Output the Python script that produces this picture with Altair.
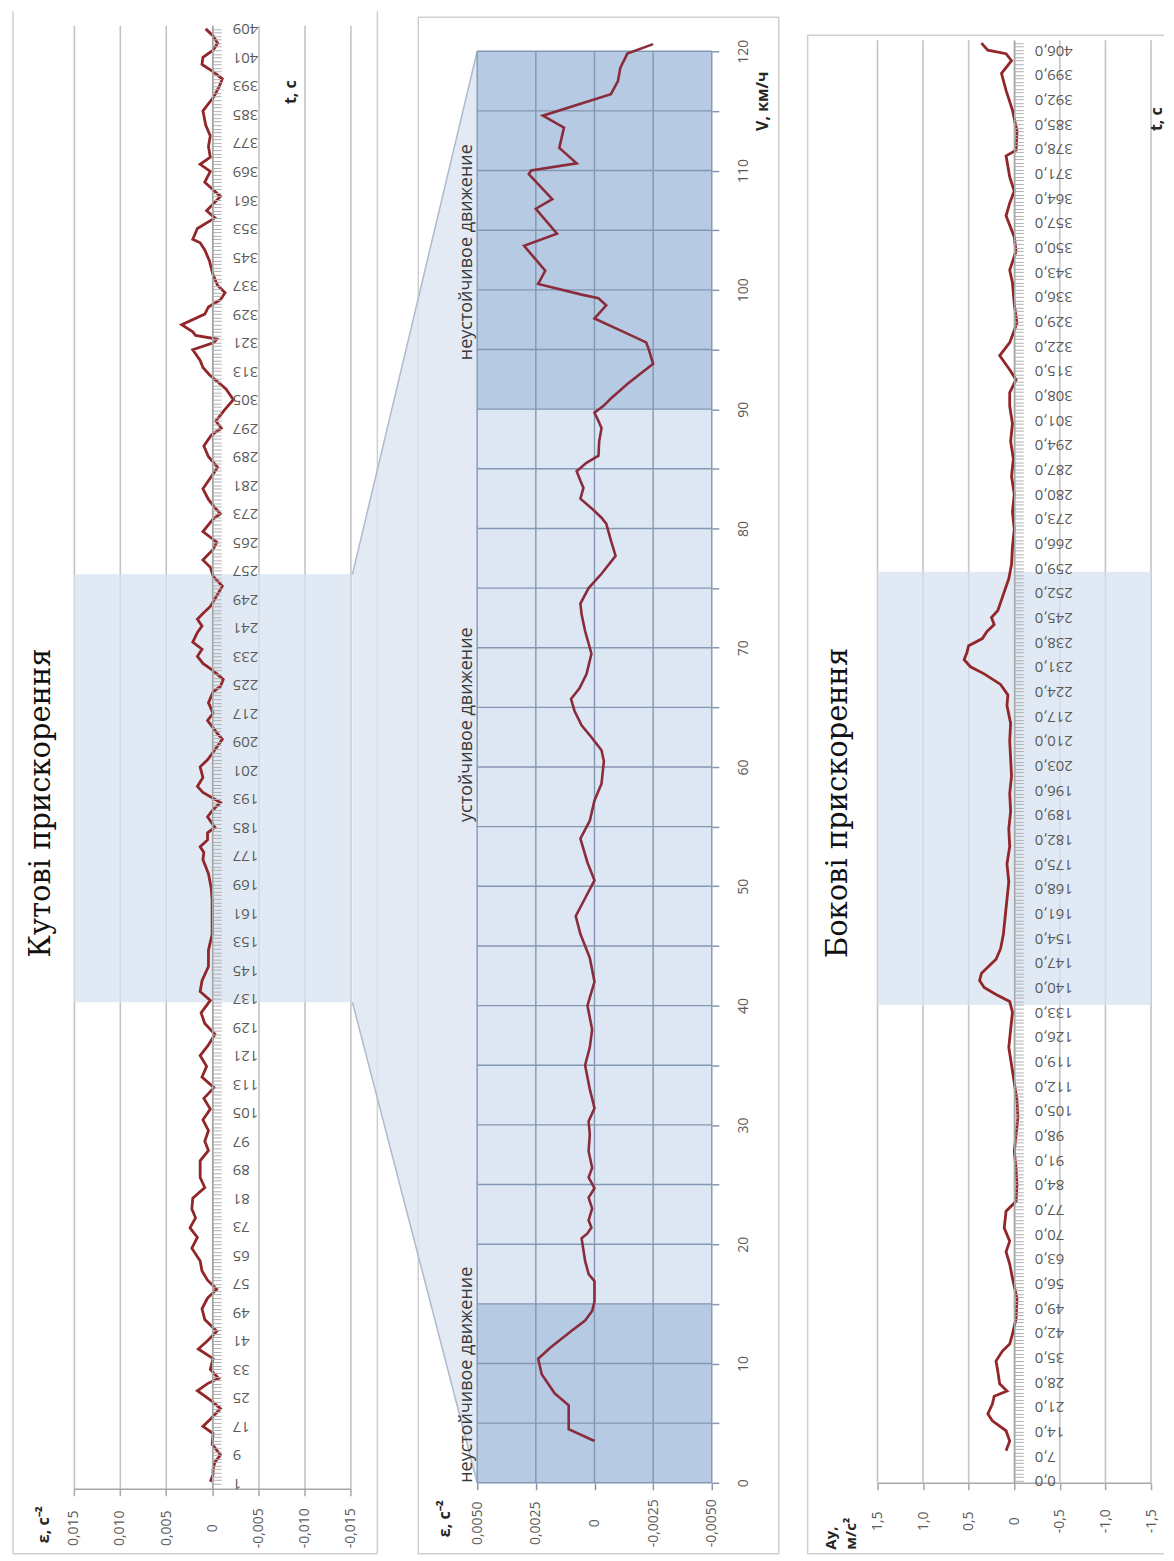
import altair as alt
import pandas as pd

# ---------------- data ----------------
# left panel: angular acceleration eps (1/s^2) against time t (s)
left_t = [1.5, 3.5, 5, 7, 9, 12, 15, 17, 19, 22, 24, 27, 29, 30.5, 33, 36, 38.7, 41, 43.7, 47,
          50, 53, 55.5, 58, 60.6, 63.4, 67, 70, 72.7, 75.5, 78, 81, 84, 86.8, 91.5, 94.4, 97, 100,
          103, 106, 109, 112, 115, 118, 121, 124, 127, 130, 133, 136.5, 139, 142, 146, 150.6, 155,
          160, 164.7, 168, 172, 176, 178, 179.6, 181.5, 183.5, 185, 188, 190, 192, 194.8, 196.5,
          199, 202, 204, 206.8, 209.7, 211.6, 215, 217, 220, 223, 224.6, 226.5, 229, 231, 233, 235,
          237, 239.7, 241.5, 243.4, 245, 247, 250, 252.7, 255.5, 258, 260, 263, 265, 268, 271.5,
          273, 275, 277, 280, 283, 286, 289, 292, 295, 297, 299, 302, 305, 308, 312, 314, 316, 319,
          321, 322, 323, 324, 326, 329, 331, 333, 335, 337, 340, 344, 347, 349, 350, 353, 356, 358,
          362, 366, 369, 371, 373, 376, 379, 382, 386, 390, 393, 395, 397, 399, 401, 403, 405, 407,
          409]
left_eps = [0.0002, -0.0001, -0.0001, -0.0003, -0.0009, 0.0000, -0.0001, 0.0010, 0.0002, -0.0009,
            0.0000, 0.0016, 0.0005, -0.0007, 0.0002, -0.0001, 0.0015, 0.0005, -0.0005, 0.0008,
            0.0011, 0.0005, -0.0005, 0.0005, 0.0011, 0.0013, 0.0022, 0.0016, 0.0024, 0.0018,
            0.0022, 0.0021, 0.0008, 0.0013, 0.0013, 0.0004, 0.0008, 0.0004, 0.0010, 0.0002,
            0.0009, -0.0002, 0.0011, 0.0006, 0.0013, 0.0004, -0.0003, 0.0008, 0.0012, 0.0002,
            0.0013, 0.0011, 0.0004, 0.0004, 0.0000, 0.0000, 0.0000, 0.0001, 0.0004, 0.0010,
            0.0009, 0.0013, 0.0005, 0.0005, -0.0003, 0.0005, -0.0001, -0.0009, 0.0010, 0.0016,
            0.0010, 0.0013, 0.0005, -0.0003, -0.0011, -0.0005, 0.0005, -0.0001, 0.0004, -0.0001,
            -0.0009, -0.0012, -0.0001, 0.0010, 0.0016, 0.0011, 0.0021, 0.0016, 0.0011, 0.0016,
            0.0010, 0.0002, -0.0005, -0.0011, -0.0001, 0.0002, 0.0010, -0.0001, -0.0005, 0.0010,
            -0.0001, -0.0009, -0.0002, 0.0004, 0.0010, 0.0002, -0.0006, 0.0004, 0.0009, 0.0001,
            -0.0010, -0.0004, -0.0013, -0.0023, -0.0015, 0.0003, 0.0010, 0.0013, 0.0021, -0.0002,
            -0.0005, 0.0018, 0.0021, 0.0033, 0.0008, 0.0004, -0.0009, -0.0014, -0.0006, -0.0001,
            0.0003, 0.0008, 0.0013, 0.0021, 0.0016, -0.0003, 0.0006, -0.0009, 0.0008, 0.0002,
            0.0013, 0.0002, 0.0004, 0.0002, 0.0007, 0.0010, -0.0002, -0.0008, -0.0011, -0.0001,
            0.0011, 0.0010, -0.0001, -0.0006, -0.0001, 0.0007]

# middle panel: eps against speed V (km/h)
mid_v = [3.5, 4.5, 6.5, 7.5, 9.1, 10.4, 11.3, 12.7, 13.6, 14.4, 15.2, 16.9, 17.5, 18.6, 20.5, 20.9,
         21.4, 22, 23, 23.9, 24.7, 25.6, 26.4, 27.8, 29.2, 30.3, 31.4, 33, 35, 36.5, 38, 40, 42, 44,
         46, 47.5, 49, 50.5, 52, 54, 55.5, 57.2, 58.6, 60.5, 61.4, 62.5, 63.5, 64.7, 65.7, 66.6,
         67.8, 69.5, 70, 71.4, 72.8, 73.7, 75, 76.2, 77.7, 79, 80.4, 80.9, 81.7, 82.5, 83.4, 84,
         84.8, 85.5, 86.1, 87.3, 88.4, 89, 89.7, 90.3, 90.9, 92.1, 93.8, 95.1, 95.6, 96.6, 97.6,
         98.7, 99.3, 99.6, 100.5, 101.6, 103.7, 104.7, 106.8, 107.6, 109.7, 110, 110.6, 111.9,
         113.6, 114.6, 116.4, 117.5, 118.6, 119.8, 120.6]
mid_eps = [0.0000, 0.0011, 0.0011, 0.0017, 0.00225, 0.0024, 0.0019, 0.0010, 0.0004, 0.0001,
           0.0000, 0.0000, 0.00025, 0.0004, 0.00055, 0.0003, 0.00013, 0.00025, 0.0001, 0.00025,
           0.0000, 0.00025, 0.0001, 0.00025, 0.0002, 0.00025, 0.0000, 0.0002, 0.0004, 0.0002,
           0.0001, 0.0003, 0.0000, 0.0002, 0.0006, 0.0008, 0.0004, 0.0000, 0.0003, 0.0006,
           0.0002, 0.0000, -0.0003, -0.0004, -0.0003, 0.00013, 0.00055, 0.00085, 0.0010, 0.00064,
           0.00034, 0.00013, 0.0002, 0.0004, 0.00055, 0.0006, 0.00025, -0.0003, -0.0009, -0.0007,
           -0.0005, -0.0003, 0.00013, 0.0006, 0.00047, 0.0006, 0.00076, 0.00034, -0.00017, -0.0002,
           -0.0003, -0.00017, 0.0000, -0.0004, -0.0007, -0.0014, -0.0025, -0.0023, -0.0022, -0.0011,
           0.0000, -0.0005, -0.00017, 0.00055, 0.0024, 0.0021, 0.0030, 0.0016, 0.0025, 0.0018,
           0.0028, 0.0027, 0.00076, 0.0015, 0.0013, 0.0022, -0.0007, -0.0010, -0.0011, -0.0014,
           -0.0025]

# right panel: lateral acceleration Ay (m/s^2) against time t (s)
right_t = [8.5, 11.3, 14.2, 17, 19, 21.8, 24, 25.5, 27.5, 31, 34, 36.8, 38.8, 41.6, 46, 51.8, 57.5,
           61.5, 65, 68, 71.7, 76.5, 79.3, 84, 88.7, 93.5, 98, 103, 108, 113, 118, 123, 128, 133,
           136, 138, 140, 142, 144, 146, 148, 151, 155, 160, 165, 170, 175, 180, 185, 190, 195,
           200, 205, 210, 215, 220, 223, 226, 229, 231, 233, 235, 237, 239, 241, 243, 245, 247,
           250, 253, 256, 260, 265, 270, 275, 280, 285, 290, 295, 300, 305, 308.8, 312.5, 315.3,
           319.3, 323, 328.6, 334, 340, 343.6, 349, 353, 359, 362.6, 366, 370, 376, 377.6, 383,
           389, 394.6, 399.4, 403, 405, 406, 408]
right_ay = [0.09, 0.05, 0.09, 0.24, 0.29, 0.24, 0.22, 0.08, 0.16, 0.18, 0.20, 0.13, 0.05, 0.02,
            -0.02, -0.03, 0.02, 0.05, 0.09, 0.05, 0.11, 0.09, -0.02, -0.03, -0.02, 0.00, -0.02,
            -0.04, -0.03, 0.00, 0.03, 0.06, 0.04, 0.02, 0.05, 0.20, 0.33, 0.38, 0.36, 0.28, 0.20,
            0.15, 0.12, 0.10, 0.08, 0.06, 0.08, 0.05, 0.06, 0.04, 0.05, 0.03, 0.04, 0.05, 0.04,
            0.08, 0.07, 0.15, 0.33, 0.48, 0.55, 0.52, 0.50, 0.35, 0.30, 0.22, 0.25, 0.18, 0.14,
            0.10, 0.06, 0.03, 0.02, 0.00, 0.02, 0.00, 0.03, 0.01, 0.04, 0.02, 0.05, 0.05, -0.02,
            0.05, 0.16, 0.05, -0.03, 0.00, 0.02, 0.05, -0.02, 0.00, 0.09, 0.05, 0.00, 0.05, 0.09,
            -0.02, -0.03, 0.02, 0.09, 0.14, 0.03, 0.09, 0.29, 0.36]

left_band_t = [136, 256]
right_band_t = [135, 258]
unstable_from = [0, 90]
unstable_to = [15, 120]
notes_text = ["неустойчивое движение", "устойчивое движение", "неустойчивое движение"]
notes_v = [0, 55.4, 94.1]

left_eps_ticks = [-0.015, -0.010, -0.005, 0, 0.005, 0.010, 0.015]
mid_eps_ticks = [-0.005, -0.0025, 0, 0.0025, 0.005]
right_ay_ticks = [-1.5, -1.0, -0.5, 0, 0.5, 1.0, 1.5]
left_time_ticks = list(range(1, 410))
right_time_ticks = list(range(0, 409))
mid_v_ticks = list(range(0, 121, 5))

# ---------------- layout / style (page pixels) ----------------
TOP = 22                      # common top of the three views
L_X0, L_W, L_H = 73, 277, 1466
M_X0, M_W = 477, 235
M_PLOT_TOP, M_PLOT_BOT = 48, 1482
GAP = M_X0 - (L_X0 + L_W)     # hconcat spacing
R_VIEW_X0 = M_X0 + M_W + GAP
R_PLOT_X0, R_PLOT_X1 = 878, 1152
R_PLOT_TOP, R_PLOT_BOT = 37, 1482
R_W = R_PLOT_X1 - R_VIEW_X0
VIEW_H = M_PLOT_BOT - TOP
L_TDOM = [-0.5, 410]
R_TDOM = [-0.57, 408.8]

SANS = "Open Sans"
SERIF = "DejaVu Serif"
LBL = "#595959"
GRID = "#c4c4c4"
AXC = "#a6a6a6"
FRAME = "#cfcfcf"
RED = "#922629"
MGRID = "#8496b0"
BAND = "#d6e1f0"

one = pd.DataFrame({"a": [0]})


def comma_fmt(dec):
    return ("datum.value == 0 ? '0' : replace(replace(format(datum.value, '.%df'), '.', ','), '\u2212', '-')" % dec)


def rule(**enc):
    return alt.Chart(one).mark_rule(color=FRAME, strokeWidth=1.5).encode(**enc)


def text(x, y, s, size, font=SANS, weight="normal", align="center", color="#262626"):
    return alt.Chart(one).mark_text(angle=270, align=align, baseline="middle", font=font,
                                    fontSize=size, fontWeight=weight, color=color, text=s).encode(
        x=alt.value(x), y=alt.value(y))


# ---------------- left panel ----------------
sxL = alt.Scale(domain=[-0.015, 0.015], reverse=True, nice=False, zero=False)
syL = alt.Scale(domain=L_TDOM, nice=False, zero=False)
axXL = alt.Axis(orient="bottom", values=left_eps_ticks, labelExpr=comma_fmt(3), grid=True,
                gridColor=GRID, gridWidth=1.6, domainColor=AXC, domainWidth=1.5, tickColor=AXC,
                tickSize=7, tickWidth=1.5, labelAngle=270, labelAlign="center",
                labelBaseline="middle", labelPadding=32, labelFlush=False, labelFont=SANS,
                labelFontSize=14, labelColor=LBL, title="")
axYL = alt.Axis(orient="right", offset=-L_W / 2, values=left_time_ticks,
                labelExpr="(datum.value - 1) % 8 == 0 ? datum.label : ''", labelAngle=180,
                labelAlign="right", labelBaseline="middle", labelPadding=11, tickSize=9,
                tickColor="#b0b0b0", tickWidth=1, domainColor=AXC, domainWidth=1.5, grid=False,
                labelOverlap=False, labelFlush=False, labelFont=SANS, labelFontSize=15,
                labelColor=LBL, title="", zindex=1)

df_left = pd.DataFrame({"t": left_t, "eps": left_eps})
df_lband = pd.DataFrame({"eps": [0.015], "eps2": [-0.015], "t": [left_band_t[0]], "t2": [left_band_t[1]]})

l_band = alt.Chart(df_lband).mark_rect(color=BAND, opacity=0.75).encode(
    x=alt.X("eps:Q", scale=sxL, axis=axXL), x2="eps2:Q",
    y=alt.Y("t:Q", scale=syL, axis=axYL), y2="t2:Q")
l_line = alt.Chart(df_left).mark_line(color=RED, strokeWidth=2.8).encode(
    x=alt.X("eps:Q", scale=sxL, axis=axXL), y=alt.Y("t:Q", scale=syL, axis=axYL), order="t:Q")

fl, fr, ft, fb = 12 - L_X0, 377 - L_X0, 8 - TOP, 1553 - TOP
left = alt.layer(
    l_band, l_line,
    rule(x=alt.value(fl), y=alt.value(ft), y2=alt.value(fb)),
    rule(x=alt.value(fr), y=alt.value(ft), y2=alt.value(fb)),
    rule(x=alt.value(fl), x2=alt.value(fr), y=alt.value(fb)),
    text(40 - L_X0, 801 - TOP, "Кутові прискорення", 29, font=SERIF, color="#111111"),
    text(43 - L_X0, 1524 - TOP, "ε, с⁻²", 16, weight="bold"),
    text(290 - L_X0, 89 - TOP, "t, с", 16, weight="bold"),
).properties(width=L_W, height=L_H)

# ---------------- middle panel ----------------
sxM = alt.Scale(domain=[-0.005, 0.005], reverse=True, nice=False, zero=False)
syM = alt.Scale(domain=[0, 120], range=[M_PLOT_BOT - TOP, M_PLOT_TOP - TOP], nice=False, zero=False)
axXM = alt.Axis(orient="bottom", values=mid_eps_ticks, labelExpr=comma_fmt(4), grid=False,
                domain=False, tickColor=MGRID, tickSize=7, tickWidth=1.5, labelAngle=270,
                labelAlign="center", labelBaseline="middle", labelPadding=33, labelFlush=False,
                labelFont=SANS, labelFontSize=14, labelColor=LBL, title="")
axYM = alt.Axis(orient="right", values=mid_v_ticks,
                labelExpr="datum.value % 10 == 0 ? datum.label : ''", grid=False, domain=False,
                tickColor=MGRID, tickSize=7, tickWidth=1.5, labelAngle=270, labelAlign="center",
                labelBaseline="middle", labelPadding=25, labelOverlap=False, labelFlush=False,
                labelFont=SANS, labelFontSize=14, labelColor=LBL, title="")


# funnel connecting the left highlighted band with the middle plot
def left_t_to_page_y(t):
    return TOP + L_H * (L_TDOM[1] - t) / (L_TDOM[1] - L_TDOM[0])


def page_y_to_v(y):
    return (M_PLOT_BOT - y) / (M_PLOT_BOT - M_PLOT_TOP) * 120


funnel_eps_far = 0.005 + (M_X0 - (L_X0 + L_W + 2)) / M_W * 0.01
funnel_lo = page_y_to_v(left_t_to_page_y(left_band_t[0]))
funnel_hi = page_y_to_v(left_t_to_page_y(left_band_t[1]))
df_funnel = pd.DataFrame({"eps": [funnel_eps_far, 0.005], "lo": [funnel_lo, 0], "hi": [funnel_hi, 120]})
df_fedge = pd.DataFrame({"eps": [funnel_eps_far, funnel_eps_far], "eps2": [0.005, 0.005],
                         "V": [funnel_hi, funnel_lo], "V2": [120, 0]})
df_mbg = pd.DataFrame({"eps": [0.005], "eps2": [-0.005], "V": [0], "V2": [120]})
df_mdark = pd.DataFrame({"eps": [0.005, 0.005], "eps2": [-0.005, -0.005],
                         "V": unstable_from, "V2": unstable_to})
df_hgrid = pd.DataFrame({"V": mid_v_ticks})
df_vgrid = pd.DataFrame({"eps": mid_eps_ticks})
df_mid = pd.DataFrame({"V": mid_v, "eps": mid_eps})
df_notes = pd.DataFrame({"V": notes_v, "label": notes_text})

XM = alt.X("eps:Q", scale=sxM, axis=axXM)
YM = alt.Y("V:Q", scale=syM, axis=axYM)

m_frame = alt.Chart(one).mark_rect(fill="transparent", stroke=FRAME, strokeWidth=1.5).encode(
    x=alt.value(418 - M_X0), x2=alt.value(779 - M_X0),
    y=alt.value(14 - TOP), y2=alt.value(1553 - TOP))
m_funnel = alt.Chart(df_funnel).mark_area(orient="vertical", color="#d9e3f0", opacity=0.75).encode(
    x=XM, y=alt.Y("lo:Q", scale=syM, axis=axYM), y2="hi:Q")
m_fedge = alt.Chart(df_fedge).mark_rule(color="#aebbcc", strokeWidth=1.5).encode(
    x=XM, x2="eps2:Q", y=YM, y2="V2:Q")
m_bg = alt.Chart(df_mbg).mark_rect(color="#dde7f3").encode(x=XM, x2="eps2:Q", y=YM, y2="V2:Q")
m_dark = alt.Chart(df_mdark).mark_rect(color="#b7cae4").encode(x=XM, x2="eps2:Q", y=YM, y2="V2:Q")
m_hgrid = alt.Chart(df_hgrid).mark_rule(color=MGRID, strokeWidth=1.4).encode(
    y=YM, x=alt.value(0), x2=alt.value(M_W))
m_vgrid = alt.Chart(df_vgrid).mark_rule(color=MGRID, strokeWidth=1.4).encode(
    x=XM, y=alt.value(M_PLOT_TOP - TOP), y2=alt.value(M_PLOT_BOT - TOP))
m_line = alt.Chart(df_mid).mark_line(color="#8a2c3c", strokeWidth=2.6).encode(x=XM, y=YM, order="V:Q")
m_notes = alt.Chart(df_notes).mark_text(angle=270, align="left", baseline="middle", font=SANS,
                                        fontSize=18, color="#3a3a3a").encode(
    x=alt.value(467 - M_X0), y=YM, text="label:N")

middle = alt.layer(
    m_frame, m_funnel, m_fedge, m_bg, m_dark, m_hgrid, m_vgrid, m_line, m_notes,
    text(445 - M_X0, 1518 - TOP, "ε, с⁻²", 16, weight="bold"),
    text(763 - M_X0, 98 - TOP, "V, км/ч", 16, weight="bold"),
).properties(width=M_W, height=VIEW_H)

# ---------------- right panel ----------------
sxR = alt.Scale(domain=[-1.5, 1.5], range=[R_PLOT_X1 - R_VIEW_X0, R_PLOT_X0 - R_VIEW_X0],
                nice=False, zero=False)
syR = alt.Scale(domain=R_TDOM, range=[R_PLOT_BOT - TOP, R_PLOT_TOP - TOP], nice=False, zero=False)
r_zero_x = (R_PLOT_X0 + R_PLOT_X1) / 2 - R_VIEW_X0
axXR = alt.Axis(orient="bottom", values=right_ay_ticks, labelExpr=comma_fmt(1), grid=False,
                domainColor=AXC, domainWidth=1.5, tickColor=AXC,
                tickSize=7, tickWidth=1.5, labelAngle=270, labelAlign="center",
                labelBaseline="middle", labelPadding=31, labelFlush=False, labelFont=SANS,
                labelFontSize=14, labelColor=LBL, title="")
axYR = alt.Axis(orient="right", offset=r_zero_x - R_W, values=right_time_ticks,
                labelExpr="datum.value % 7 == 0 ? replace(format(datum.value, '.1f'), '.', ',') : ''",
                labelAngle=180, labelAlign="right", labelBaseline="middle", labelPadding=11,
                tickSize=9, tickColor="#b0b0b0", tickWidth=1, domainColor=AXC, domainWidth=1.5,
                grid=False, labelOverlap=False, labelFlush=False, labelFont=SANS,
                labelFontSize=15, labelColor=LBL, title="", zindex=1)

df_right = pd.DataFrame({"t": right_t, "ay": right_ay})
df_rband = pd.DataFrame({"ay": [1.5], "ay2": [-1.5], "t": [right_band_t[0]], "t2": [right_band_t[1]]})
df_rgrid = pd.DataFrame({"ay": right_ay_ticks})

XR = alt.X("ay:Q", scale=sxR, axis=axXR)
YR = alt.Y("t:Q", scale=syR, axis=axYR)
r_grid = alt.Chart(df_rgrid).mark_rule(color=GRID, strokeWidth=1.6).encode(
    x=XR, y=alt.value(R_PLOT_TOP - TOP), y2=alt.value(R_PLOT_BOT - TOP))
r_band = alt.Chart(df_rband).mark_rect(color=BAND, opacity=0.75).encode(
    x=XR, x2="ay2:Q", y=YR, y2="t2:Q")
r_line = alt.Chart(df_right).mark_line(color=RED, strokeWidth=2.8).encode(x=XR, y=YR, order="t:Q")

gl, gr, gt, gb = 808 - R_VIEW_X0, 1165 - R_VIEW_X0, 32 - TOP, 1553 - TOP
right = alt.layer(
    r_grid, r_band, r_line,
    rule(x=alt.value(gl), y=alt.value(gt), y2=alt.value(gb)),
    rule(x=alt.value(gl), x2=alt.value(gr), y=alt.value(gt)),
    rule(x=alt.value(gl), x2=alt.value(gr), y=alt.value(gb)),
    text(838 - R_VIEW_X0, 801 - TOP, "Бокові прискорення", 29, font=SERIF, color="#111111"),
    text(831 - R_VIEW_X0, 1549 - TOP, "Ay,", 15, weight="bold", align="left"),
    text(851 - R_VIEW_X0, 1549 - TOP, "м/с²", 15, weight="bold", align="left"),
    text(1158 - R_VIEW_X0, 116 - TOP, "t, с", 16, weight="bold"),
).properties(width=R_W, height=VIEW_H)

chart = alt.hconcat(left, middle, right, spacing=GAP, bounds="flush").properties(
    padding={"left": 3, "top": 0, "right": 0, "bottom": 0}, background="white"
).configure_view(stroke="transparent")

chart.save("out.html", embed_options={"renderer": "svg", "actions": False})
